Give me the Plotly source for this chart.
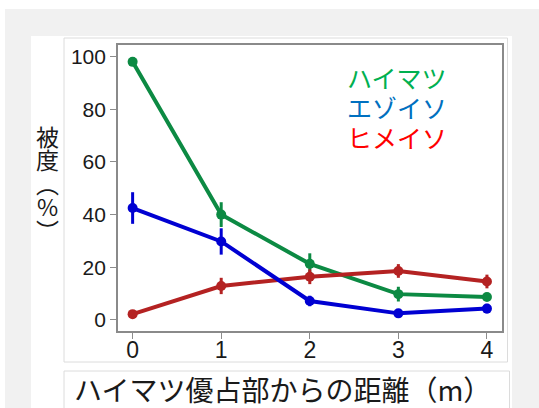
import plotly.graph_objects as go

# Distance from the dwarf-pine (ハイマツ) dominated patch, metres
distance = [0, 1, 2, 3, 4]

# Cover (%) per species with standard errors
haimatsu = [98.0, 40.0, 21.3, 9.8, 8.7]
haimatsu_err = [0.5, 4.7, 4.0, 2.8, 1.5]
ezoiso = [42.5, 29.8, 7.2, 2.5, 4.3]
ezoiso_err = [6.0, 5.0, 2.0, 1.0, 1.8]
himeiso = [2.2, 12.9, 16.4, 18.6, 14.6]
himeiso_err = [0.6, 3.1, 2.8, 2.6, 2.6]

species_labels = ["ハイマツ", "エゾイソ", "ヒメイソ"]
y_ticks = [0, 20, 40, 60, 80, 100]
x_ticks = [0, 1, 2, 3, 4]

W, H = 539, 408
L, R, T, B = 118, 502, 45, 331  # plot area in pixels


def px(x):
    return (x - L) / (R - L)


def py(y):
    return (B - y) / (B - T)


JP = "Noto Sans CJK JP"
NUM = "Liberation Sans, Arial, sans-serif"

fig = go.Figure()

series = [
    (haimatsu, haimatsu_err, "#0c8a43"),
    (himeiso, himeiso_err, "#b42222"),
    (ezoiso, ezoiso_err, "#0000d2"),
]
for vals, errs, col in series:
    fig.add_trace(go.Scatter(
        x=distance, y=vals,
        mode="lines+markers",
        line=dict(color=col, width=4),
        marker=dict(color=col, size=10),
        error_y=dict(type="data", array=errs, color=col, thickness=3, width=0),
        showlegend=False,
    ))

shapes = [
    dict(type="rect", xref="paper", yref="paper", layer="below",
         x0=px(5), x1=px(545), y0=py(9), y1=py(415),
         fillcolor="#f1f1f1", line=dict(width=0)),
    dict(type="rect", xref="paper", yref="paper", layer="below",
         x0=px(31), x1=px(512), y0=py(36), y1=py(415),
         fillcolor="#ffffff", line=dict(width=0)),
    dict(type="rect", xref="paper", yref="paper", layer="below",
         x0=px(64), x1=px(507.5), y0=py(38), y1=py(362),
         fillcolor="rgba(0,0,0,0)", line=dict(color="#dcdcdc", width=1)),
    dict(type="rect", xref="paper", yref="paper", layer="below",
         x0=px(64), x1=px(509.5), y0=py(371), y1=py(415),
         fillcolor="rgba(0,0,0,0)", line=dict(color="#dcdcdc", width=1)),
]

annotations = []
# species labels
for text, col, yc in zip(species_labels, ["#00b050", "#0070c0", "#ff0000"], [77, 107, 137]):
    annotations.append(dict(
        text=text, xref="paper", yref="paper", x=px(345), y=py(yc),
        xanchor="left", yanchor="middle", showarrow=False,
        font=dict(family=JP, size=25, color=col)))

# vertical y-axis title, one upright character per line
y_title = "<br>".join(
    f'<span style="font-size:23px">{ch}</span>' for ch in ["被", "度", "︵", "%", "︶"]
)
annotations.append(dict(
    text=y_title, xref="paper", yref="paper", x=px(47), y=py(117),
    xanchor="center", yanchor="top", showarrow=False, align="center",
    font=dict(family=JP, size=18, color="#1a1a1a")))

# x-axis title
annotations.append(dict(
    text="ハイマツ優占部からの距離（m）", xref="paper", yref="paper",
    x=px(72), y=py(388.5), xanchor="left", yanchor="middle", showarrow=False,
    font=dict(family=JP, size=28, color="#1a1a1a")))

axis_common = dict(
    showline=True, linecolor="#8a8a8a", linewidth=1.7, mirror=True,
    showgrid=False, zeroline=False, ticks="outside", ticklen=6,
    tickcolor="#8c8c8c", tickwidth=1,
)

fig.update_layout(
    width=W, height=H,
    margin=dict(l=L, r=W - R, t=T, b=H - B, pad=0),
    paper_bgcolor="#ffffff", plot_bgcolor="rgba(0,0,0,0)",
    xaxis=dict(range=[-0.165, 4.17], tickvals=x_ticks,
               tickfont=dict(family=NUM, size=23, color="#1a1a1a"),
               ticklabelstandoff=-8,
               **axis_common),
    yaxis=dict(range=[-4.2, 104.4], tickvals=y_ticks,
               tickfont=dict(family=NUM, size=21, color="#1a1a1a"),
               **axis_common),
    shapes=shapes,
    annotations=annotations,
)

fig.write_html("out.html")
